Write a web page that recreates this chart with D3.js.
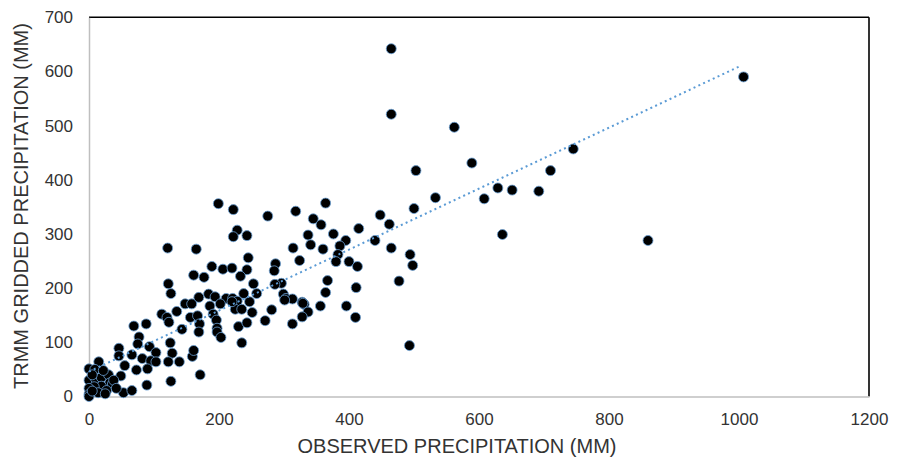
<!DOCTYPE html>
<html>
<head>
<meta charset="utf-8">
<script src="https://cdn.jsdelivr.net/npm/d3@7"></script>
<style>
  body { margin: 0; background: #fff; }
  svg text { font-family: "Liberation Sans", Arial, sans-serif; fill: #333; }
</style>
</head>
<body>
<svg id="chart" width="901" height="458"></svg>
<script>
// observed precipitation (mm) vs TRMM gridded precipitation (mm)
var observed = [
  465, 465, 562, 589, 503, 745, 710, 533, 608, 629, 651, 692, 500, 318, 364, 345, 357, 448, 462, 415,
  376, 1007, 860, 337, 395, 440, 636, 314, 341, 360, 386, 383, 380, 400, 413, 465, 494, 498, 477, 324,
  367, 364, 411, 296, 299, 303, 313, 328, 331, 337, 328, 356, 396, 410, 313, 493, 199, 222, 275, 228,
  222, 243, 245, 189, 206, 220, 243, 287, 285, 233, 253, 286, 184, 194, 211, 221, 238, 258, 247, 228,
  121, 165, 161, 177, 122, 126, 169, 148, 158, 186, 135, 112, 120, 123, 156, 167, 170, 143, 169, 69,
  88, 77, 75, 93, 125, 128, 103, 46, 46, 66, 82, 95, 103, 122, 139, 159, 161, 55, 73, 90,
  49, 126, 171, 89, 53, 66, 15, 0, 9, 0, 10, 19, 30, 32, 36, 19, 8, 0, 27, 14,
  0, 0, 202, 191, 196, 197, 197, 203, 225, 235, 251, 230, 243, 235, 271, 281, 301, 329, 220, 5,
  22, 38, 25, 5, 42
];
var trmm = [
  642, 521, 497, 431, 417, 457, 417, 367, 365, 385, 381, 379, 347, 342, 357, 328, 317, 335, 318, 310,
  300, 590, 288, 298, 288, 288, 299, 274, 280, 272, 278, 262, 249, 249, 240, 274, 262, 242, 213, 251,
  214, 192, 201, 209, 189, 181, 180, 174, 170, 156, 147, 167, 167, 146, 134, 94, 356, 345, 333, 307,
  295, 297, 256, 240, 235, 237, 234, 245, 232, 222, 208, 207, 189, 184, 181, 181, 190, 190, 175, 176,
  274, 272, 224, 220, 208, 190, 183, 171, 171, 167, 157, 152, 146, 137, 146, 149, 134, 124, 119, 130,
  134, 110, 97, 92, 99, 80, 81, 89, 75, 77, 70, 66, 64, 64, 64, 74, 85, 57, 49, 51,
  38, 28, 40, 21, 7, 11, 64, 51, 50, 30, 33, 35, 40, 25, 23, 19, 18, 15, 11, 7,
  4, 0, 171, 152, 141, 126, 119, 109, 161, 161, 155, 129, 136, 99, 140, 160, 178, 172, 175, 40,
  48, 30, 5, 10, 15
];
// linear trendline, read from its two ends
var trendX = [0, 1002];
var trendY = [46, 610];

var xTicks = [0, 200, 400, 600, 800, 1000, 1200];
var yTicks = [0, 100, 200, 300, 400, 500, 600, 700];

var svg = d3.select("#chart");

var x = d3.scaleLinear().domain([0, 1200]).range([89, 869]);
var y = d3.scaleLinear().domain([0, 700]).range([396.5, 17.3]);

// top and right frame lines
svg.append("line")
    .attr("x1", x(0)).attr("x2", x(1200))
    .attr("y1", y(700)).attr("y2", y(700))
    .attr("stroke", "#000").attr("stroke-width", 1.6);
svg.append("line")
    .attr("x1", x(1200)).attr("x2", x(1200))
    .attr("y1", y(700)).attr("y2", y(0))
    .attr("stroke", "#000").attr("stroke-width", 1.6);

var xAxis = svg.append("g")
    .attr("transform", "translate(0," + y(0) + ")")
    .call(d3.axisBottom(x).tickValues(xTicks).tickFormat(d3.format("d")).tickSize(0).tickPadding(16));
var yAxis = svg.append("g")
    .attr("transform", "translate(" + x(0) + ",0)")
    .call(d3.axisLeft(y).tickValues(yTicks).tickFormat(d3.format("d")).tickSize(0).tickPadding(16));

[xAxis, yAxis].forEach(function(g) {
    g.select(".domain").attr("stroke", "#bfbfbf").attr("stroke-width", 1.5);
    g.selectAll("text")
        .style("font-size", "17px")
        .style("font-family", "'Liberation Sans', Arial, sans-serif")
        .attr("fill", "#333");
});

var pts = observed.map(function(d, i) { return {x: d, y: trmm[i]}; });

svg.append("g")
    .selectAll("circle")
    .data(pts)
    .enter()
    .append("circle")
    .attr("cx", function(d) { return x(d.x); })
    .attr("cy", function(d) { return y(d.y); })
    .attr("r", 5)
    .attr("fill", "#000")
    .attr("stroke", "#6a9fd4")
    .attr("stroke-width", 0.8);

var trend = trendX.map(function(d, i) { return [d, trendY[i]]; });
svg.append("path")
    .datum(trend)
    .attr("d", d3.line().x(function(d) { return x(d[0]); }).y(function(d) { return y(d[1]); }))
    .attr("fill", "none")
    .attr("stroke", "#5b9bd5")
    .attr("stroke-width", 2)
    .attr("stroke-dasharray", "2,3.3");

svg.append("text")
    .attr("x", 457)
    .attr("y", 453)
    .attr("text-anchor", "middle")
    .style("font-size", "20px")
    .text("OBSERVED PRECIPITATION (MM)");

svg.append("text")
    .attr("transform", "translate(28,206) rotate(-90)")
    .attr("text-anchor", "middle")
    .style("font-size", "20px")
    .text("TRMM GRIDDED PRECIPITATION (MM)");
</script>
</body>
</html>
